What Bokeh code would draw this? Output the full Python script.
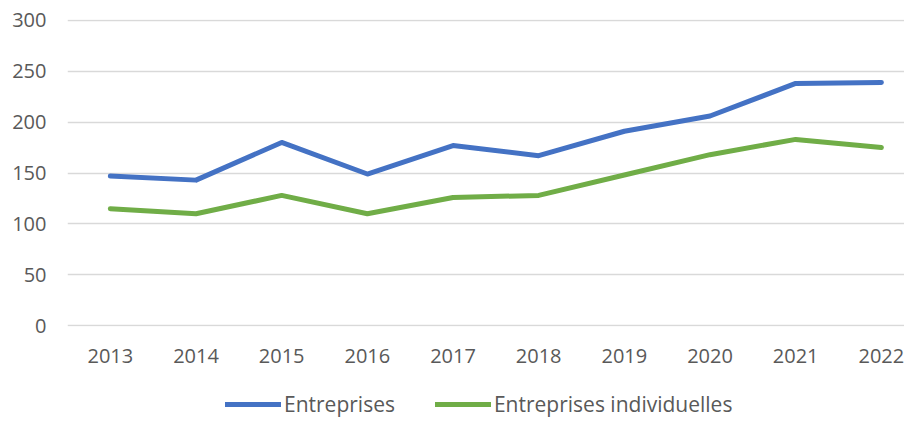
from bokeh.plotting import figure
from bokeh.layouts import column
from bokeh.models import Range1d, FixedTicker, Legend, LegendItem
from bokeh.embed import file_html
from bokeh.resources import INLINE

years = ["2013", "2014", "2015", "2016", "2017", "2018", "2019", "2020", "2021", "2022"]
entreprises = [147, 143, 180, 149, 177, 167, 191, 206, 238, 239]
individuelles = [115, 110, 128, 110, 126, 128, 148, 168, 183, 175]
y_ticks = [0, 50, 100, 150, 200, 250, 300]
series_names = ["Entreprises", "Entreprises individuelles"]
series_colors = ["#4472C4", "#70AD47"]

FONT = "Open Sans"
TXT = "#595959"

x = list(range(len(years)))

p = figure(frame_width=837, frame_height=307, output_backend="svg", toolbar_location=None,
           x_range=Range1d(-0.5, 9.27), y_range=Range1d(-0.75, 300.75),
           min_border_left=67, min_border_top=19, min_border_right=0, min_border_bottom=44)
p.outline_line_color = None
p.background_fill_color = "white"

for ax in (p.xaxis[0], p.yaxis[0]):
    ax.axis_line_color = None
    ax.major_tick_line_color = None
    ax.minor_tick_line_color = None
    ax.major_label_text_font = FONT
    ax.major_label_text_font_size = "20px"
    ax.major_label_text_color = TXT

p.xaxis.ticker = FixedTicker(ticks=x)
p.xaxis.major_label_overrides = {i: y for i, y in enumerate(years)}
p.xaxis.major_label_standoff = 16
p.yaxis.ticker = FixedTicker(ticks=y_ticks)
p.yaxis.major_label_standoff = 15

p.xgrid.visible = False
p.ygrid.ticker = FixedTicker(ticks=y_ticks)
p.ygrid.grid_line_color = "#D9D9D9"
p.ygrid.grid_line_width = 1.5

p.line(x, entreprises, line_color=series_colors[0], line_width=5, line_cap="round", line_join="round")
p.line(x, individuelles, line_color=series_colors[1], line_width=5, line_cap="round", line_join="round")

# legend strip below the chart (swatch renderers hold a single empty point)
lg = figure(width=904, height=48, output_backend="svg", toolbar_location=None,
            x_range=Range1d(0, 1), y_range=Range1d(0, 1), min_border=0,
            x_axis_location=None, y_axis_location=None)
lg.outline_line_color = None
lg.grid.visible = False
items = []
for name, col in zip(series_names, series_colors):
    r = lg.line([float("nan")], [float("nan")], line_color=col, line_width=5, line_cap="round")
    items.append(LegendItem(label=name, renderers=[r]))
legend = Legend(items=items, orientation="horizontal", location=(158, 0),
                border_line_color=None, background_fill_alpha=0,
                label_text_font=FONT, label_text_font_size="21px", label_text_color=TXT,
                glyph_width=56, glyph_height=20, label_standoff=3, spacing=40,
                padding=0, margin=0)
lg.add_layout(legend)

layout = column(p, lg, spacing=0)
open("out.html", "w").write(file_html(layout, INLINE))
